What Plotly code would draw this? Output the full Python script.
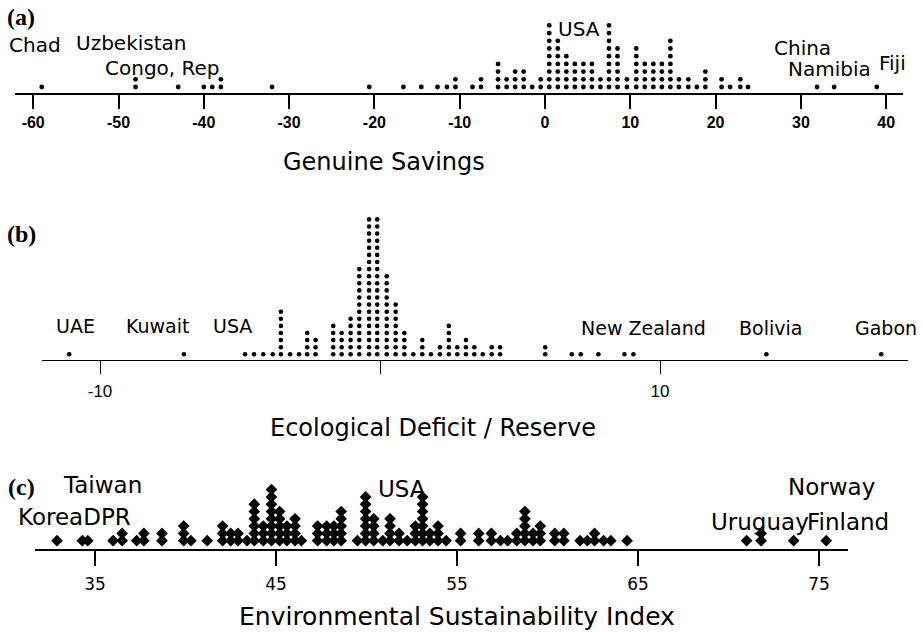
import plotly.graph_objects as go

W, H = 923, 632

# ---------------- data ----------------
# (a) Genuine Savings: dot-column centres and number of stacked dots
gs_values = [-59, -48, -43, -40, -39, -38, -32, -20.6, -16.6, -14.5,
             -12.6, -11.5, -10.5, -8.5, -7.5, -5.5, -4.5, -3.5, -2.5, -1.5,
             -0.5, 0.5, 1.5, 2.5, 3.5, 4.5, 5.5, 6.5, 7.5, 8.5,
             9.6, 10.7, 11.7, 12.7, 13.7, 14.7, 15.7, 16.8, 17.8, 18.8,
             20.7, 21.7, 22.9, 23.8, 31.9, 33.9, 38.9]
gs_counts = [1, 2, 1, 1, 1, 2, 1, 1, 1, 1,
             1, 1, 2, 1, 2, 4, 2, 3, 3, 1,
             2, 9, 7, 5, 4, 4, 4, 2, 9, 6,
             2, 6, 4, 4, 4, 7, 2, 2, 1, 3,
             2, 1, 2, 1, 1, 1, 1]
gs_ticks = [-60, -50, -40, -30, -20, -10, 0, 10, 20, 30, 40]

# (b) Ecological Deficit / Reserve
ed_values = [-11.1, -7.0, -4.82, -4.5, -4.17, -3.83, -3.54, -3.21, -2.89, -2.6,
             -2.3, -1.67, -1.37, -1.05, -0.74, -0.39, -0.1, 0.24, 0.56, 0.87,
             1.19, 1.51, 1.82, 2.14, 2.46, 2.76, 3.07, 3.37, 3.67, 3.99,
             4.29, 5.9, 6.85, 7.17, 7.8, 8.73, 9.05, 13.8, 17.9]
ed_counts = [1, 1, 1, 1, 1, 1, 7, 1, 1, 4,
             3, 5, 4, 6, 13, 20, 20, 12, 8, 4,
             1, 3, 1, 2, 5, 2, 3, 2, 1, 2,
             2, 2, 1, 1, 1, 1, 1, 1, 1]
ed_ticks = [-10, 0, 10]
ed_ticktext = ["-10", "", "10"]

# (c) Environmental Sustainability Index
esi_values = [32.9, 34.3, 34.6, 36.0, 36.5, 37.3, 37.7, 38.7, 39.9, 40.3,
              41.2, 42.05, 42.5, 42.9, 43.4, 43.8, 44.3, 44.75, 45.2, 45.6,
              46.05, 46.4, 47.3, 47.8, 48.2, 48.6, 49.5, 49.95, 50.4, 50.9,
              51.3, 51.8, 52.25, 52.7, 53.1, 53.5, 53.95, 54.4, 55.2, 56.2,
              56.9, 57.4, 57.8, 58.3, 58.75, 59.2, 59.6, 60.4, 60.9, 61.8,
              62.2, 62.6, 63.1, 63.5, 64.4, 71.0, 71.8, 73.6, 75.4]
esi_counts = [1, 1, 1, 1, 2, 1, 2, 2, 3, 1,
              1, 3, 2, 2, 1, 6, 3, 8, 5, 3,
              4, 1, 3, 3, 3, 5, 1, 7, 4, 1,
              4, 2, 1, 3, 7, 2, 3, 1, 2, 2,
              2, 1, 1, 2, 5, 2, 3, 2, 2, 1,
              1, 2, 1, 1, 1, 1, 2, 1, 1]
esi_ticks = [35, 45, 55, 65, 75]

# ---------------- helpers ----------------
def stack(values, counts, base):
    xs, ys = [], []
    for v, c in zip(values, counts):
        for k in range(c):
            xs.append(v)
            ys.append(base + k)
    return xs, ys

def py(p):
    return 1 - p / H

SANS = "DejaVu Sans, Arial, sans-serif"
ARIAL = "Liberation Sans, Arial, sans-serif"
SERIF = "Liberation Serif, Times New Roman, serif"

fig = go.Figure()

# panel geometry (pixels)
panels = [
    dict(xa="x", ya="y", vals=gs_values, cnts=gs_counts, zero=545, ppu=8.53,
         x0=15, x1=903, line=93, top=10, row=7.7, off=6.0,
         marker=dict(symbol="circle", size=4.8, color="black")),
    dict(xa="x2", ya="y2", vals=ed_values, cnts=ed_counts, zero=380, ppu=28.0,
         x0=42, x1=908, line=360, top=205, row=7.1, off=5.7,
         marker=dict(symbol="circle", size=4.6, color="black")),
    dict(xa="x3", ya="y3", vals=esi_values, cnts=esi_counts, zero=95 - 35 * 18.1, ppu=18.1,
         x0=35, x1=848, line=549, top=465, row=7.3, off=8.3,
         marker=dict(symbol="diamond", size=9, color="black")),
]

layout_axes = {}
for i, p in enumerate(panels):
    xs, ys = stack(p["vals"], p["cnts"], p["off"] / p["row"])
    fig.add_trace(go.Scatter(x=xs, y=ys, mode="markers", marker=p["marker"],
                             xaxis=p["xa"], yaxis=p["ya"], showlegend=False,
                             hoverinfo="x"))
    sfx = "" if i == 0 else str(i + 1)
    yr = (p["line"] - p["top"]) / p["row"]
    layout_axes["yaxis" + sfx] = dict(
        domain=[py(p["line"]), py(p["top"])], range=[0, yr], visible=False,
        fixedrange=True, anchor="x" + sfx)
    layout_axes["xaxis" + sfx] = dict(
        domain=[p["x0"] / W, p["x1"] / W],
        range=[(p["x0"] - p["zero"]) / p["ppu"], (p["x1"] - p["zero"]) / p["ppu"]],
        anchor="y" + sfx, showline=True, linecolor="black", showgrid=False,
        zeroline=False, ticks="outside", tickcolor="black", fixedrange=True)

layout_axes["xaxis"].update(tickvals=gs_ticks, ticktext=[str(t) for t in gs_ticks],
                            linewidth=1.5, tickwidth=1.5, ticklen=14,
                            tickfont=dict(family=ARIAL, size=16, color="black", weight="bold"),
                            ticklabelstandoff=0)
layout_axes["xaxis2"].update(tickvals=ed_ticks, ticktext=ed_ticktext,
                             linewidth=1, tickwidth=1, ticklen=13,
                             tickfont=dict(family=ARIAL, size=17, color="black"),
                             ticklabelstandoff=3)
layout_axes["xaxis3"].update(tickvals=esi_ticks, ticktext=[str(t) for t in esi_ticks],
                             linewidth=2, tickwidth=2, ticklen=15,
                             tickfont=dict(family=SANS, size=17, color="black"),
                             ticklabelstandoff=4)

def lab(text, x, y, size, family=SANS, anchor="left", bold=False):
    t = "<b>%s</b>" % text if bold else text
    return dict(text=t, x=x / W, y=py(y), xref="paper", yref="paper",
                xanchor=anchor, yanchor="middle", showarrow=False,
                font=dict(family=family, size=size, color="black"))

annotations = [
    # panel (a)
    lab("(a)", 5, 17, 24, SERIF, bold=True),
    lab("Chad", 7, 45, 20),
    lab("Uzbekistan", 74, 43, 20),
    lab("Congo, Rep", 103, 68, 20),
    lab("USA", 556, 29, 20),
    lab("China", 772, 48, 20),
    lab("Namibia", 786, 69, 20),
    lab("Fiji", 877, 63, 20),
    lab("Genuine Savings", 384, 162, 24, anchor="center"),
    # panel (b)
    lab("(b)", 5, 234, 24, SERIF, bold=True),
    lab("UAE", 54, 326, 19),
    lab("Kuwait", 124, 326, 19),
    lab("USA", 211, 326, 19),
    lab("New Zealand", 579, 328, 19),
    lab("Bolivia", 737, 328, 19),
    lab("Gabon", 853, 328, 19),
    lab("Ecological Deficit / Reserve", 433, 428, 24, anchor="center"),
    # panel (c)
    lab("(c)", 6, 487, 24, SERIF, bold=True),
    lab("Taiwan", 61, 485, 23),
    lab("KoreaDPR", 16, 517, 23),
    lab("USA", 376, 489, 23),
    lab("Norway", 786, 487, 23),
    lab("Uruguay", 709, 522, 23),
    lab("Finland", 805, 522, 23),
    lab("Environmental Sustainability Index", 457, 616, 25, anchor="center"),
]

fig.update_layout(width=W, height=H, margin=dict(l=0, r=0, t=0, b=0),
                  paper_bgcolor="white", plot_bgcolor="white",
                  annotations=annotations, **layout_axes)

fig.write_html("out.html")
